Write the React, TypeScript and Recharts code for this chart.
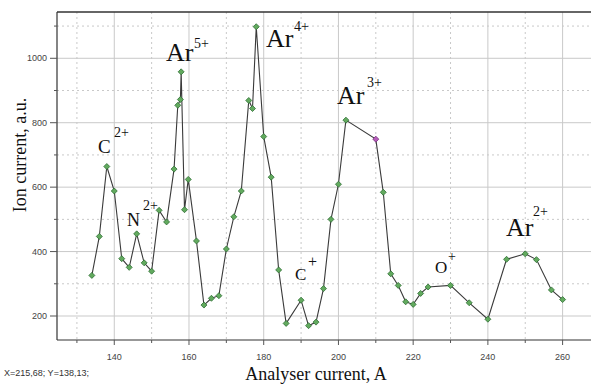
import React from 'react';
import { LineChart, Line, XAxis, YAxis, CartesianGrid, ReferenceLine } from 'recharts';

// analyser current, A
const current = [
  134, 136, 138, 140, 142, 144, 146, 148, 150, 152, 154, 156, 157, 157.7, 157.9, 158.8, 159.8,
  162, 164, 166, 168, 170, 172, 174, 176, 177, 178, 180, 182, 184, 186,
  190, 192, 194, 196, 198, 200, 202, 210, 212, 214, 216, 218, 220, 222, 224,
  230, 235, 240, 245, 250, 253, 257, 260
];
// ion current, a.u.
const ionCurrent = [
  326, 447, 664, 588, 378, 351, 455, 365, 339, 528, 492, 656, 854, 872, 958, 530, 624,
  433, 234, 255, 263, 408, 508, 588, 869, 844, 1098, 757, 631, 343, 177,
  249, 170, 181, 285, 500, 609, 808, 749, 584, 331, 295, 244, 236, 270, 290,
  295, 241, 190, 376, 393, 375, 281, 251
];
const highlighted = [210];

const xTicks = [130, 140, 150, 160, 170, 180, 190, 200, 210, 220, 230, 240, 250, 260];
const xLabels = [140, 160, 180, 200, 220, 240, 260];
const xMinor = [130, 150, 170, 190, 210, 230, 250];
const yTicks = [200, 300, 400, 500, 600, 700, 800, 900, 1000, 1100];
const yLabels = [200, 400, 600, 800, 1000];
const yMinor = [300, 500, 700, 900, 1100];

const X_DOMAIN = [124.67, 267.6];
const Y_DOMAIN = [125.5, 1143.7];

const data = current.map((x, i) => ({ x, y: ionCurrent[i] }));

const tickFont = '"Liberation Sans", Arial, sans-serif';
const serif = '"Liberation Serif", "Times New Roman", serif';

const XTick = (props: any) => {
  const { x, y, payload } = props;
  const major = xLabels.includes(payload.value);
  return (
    <g>
      <line x1={x} x2={x} y1={y} y2={y + (major ? 5 : 3)} stroke="#555" />
      {major && (
        <text x={x} y={y + 20} textAnchor="middle" fontSize={9} fontFamily={tickFont} fill="#444">
          {payload.value}
        </text>
      )}
    </g>
  );
};

const YTick = (props: any) => {
  const { x, y, payload } = props;
  const major = yLabels.includes(payload.value);
  return (
    <g>
      <line x1={x - (major ? 7 : 3)} x2={x} y1={y} y2={y} stroke="#555" />
      {major && (
        <text x={x - 10} y={y + 3} textAnchor="end" fontSize={9} fontFamily={tickFont} fill="#444">
          {payload.value}
        </text>
      )}
    </g>
  );
};

const renderDot = (props: any) => {
  const { cx, cy, payload, index } = props;
  const hot = highlighted.includes(payload.x);
  const r = 3;
  return (
    <polygon
      key={`d-${index}`}
      points={`${cx},${cy - r} ${cx + r},${cy} ${cx},${cy + r} ${cx - r},${cy}`}
      fill={hot ? '#b45cb8' : '#62aa5e'}
      stroke={hot ? '#7a2f80' : '#2f6e35'}
      strokeWidth={0.8}
    />
  );
};

const IonLabel = ({ x, y, ion, charge, size, sup, dx, dy }: any) => (
  <g fontFamily={serif} fill="#111">
    <text x={x} y={y} fontSize={size}>{ion}</text>
    <text x={x + dx} y={y - dy} fontSize={sup}>{charge}</text>
  </g>
);

const App = () => {
  return (
    <div style={{ position: 'absolute', left: 0, top: 0, width: 591, height: 385, background: '#fff' }}>
      <LineChart width={591} height={385} data={data} margin={{ top: 12, right: 0, bottom: 0, left: 0 }}>
        <CartesianGrid
          vertical
          horizontal
          verticalValues={xMinor}
          horizontalValues={yMinor}
          stroke="#c9c9c9"
          strokeDasharray="2 3"
        />
        <CartesianGrid
          vertical
          horizontal
          verticalValues={xLabels}
          horizontalValues={yLabels}
          stroke="#c9c9c9"
        />
        <XAxis
          type="number"
          dataKey="x"
          domain={X_DOMAIN}
          allowDataOverflow
          ticks={xTicks}
          interval={0}
          height={45}
          tickSize={0}
          tickMargin={0}
          tickLine={false}
          tick={<XTick />}
          axisLine={{ stroke: '#333', strokeWidth: 1.2 }}
        />
        <YAxis
          type="number"
          domain={Y_DOMAIN}
          allowDataOverflow
          ticks={yTicks}
          interval={0}
          width={57}
          tickSize={0}
          tickMargin={0}
          tickLine={false}
          tick={<YTick />}
          axisLine={{ stroke: '#333', strokeWidth: 1.2 }}
        />
        <ReferenceLine y={Y_DOMAIN[1]} stroke="#333" strokeWidth={1.5} ifOverflow="visible" />
        <Line
          type="linear"
          dataKey="y"
          stroke="#3a3a3a"
          strokeWidth={1.1}
          dot={renderDot}
          activeDot={false}
          isAnimationActive={false}
        />
      </LineChart>
      <svg
        width={591}
        height={385}
        style={{ position: 'absolute', left: 0, top: 0, pointerEvents: 'none' }}
      >
        <IonLabel x={98} y={153} ion="C" charge="2+" size={19} sup={14} dx={16} dy={16} />
        <IonLabel x={127} y={226} ion="N" charge="2+" size={18} sup={14} dx={16} dy={16} />
        <IonLabel x={166} y={61} ion="Ar" charge="5+" size={26} sup={14} dx={28} dy={13} />
        <IonLabel x={266} y={47} ion="Ar" charge="4+" size={26} sup={14} dx={28} dy={16} />
        <IonLabel x={337} y={104} ion="Ar" charge="3+" size={26} sup={14} dx={30} dy={17} />
        <IonLabel x={295} y={280} ion="C" charge="+" size={17} sup={16} dx={13} dy={13} />
        <IonLabel x={435} y={273} ion="O" charge="+" size={17} sup={14} dx={13} dy={12} />
        <IonLabel x={506} y={236} ion="Ar" charge="2+" size={26} sup={14} dx={27} dy={20} />
        <text
          x={26}
          y={155}
          transform="rotate(-90 26 155)"
          textAnchor="middle"
          fontFamily={serif}
          fontSize={18}
          fill="#111"
        >
          Ion current, a.u.
        </text>
        <text x={316} y={380} textAnchor="middle" fontFamily={serif} fontSize={18} fill="#111">
          Analyser current, A
        </text>
        <text x={4} y={376} fontFamily={tickFont} fontSize={9} fill="#333">
          X=215,68; Y=138,13;
        </text>
      </svg>
    </div>
  );
};

export default App;
